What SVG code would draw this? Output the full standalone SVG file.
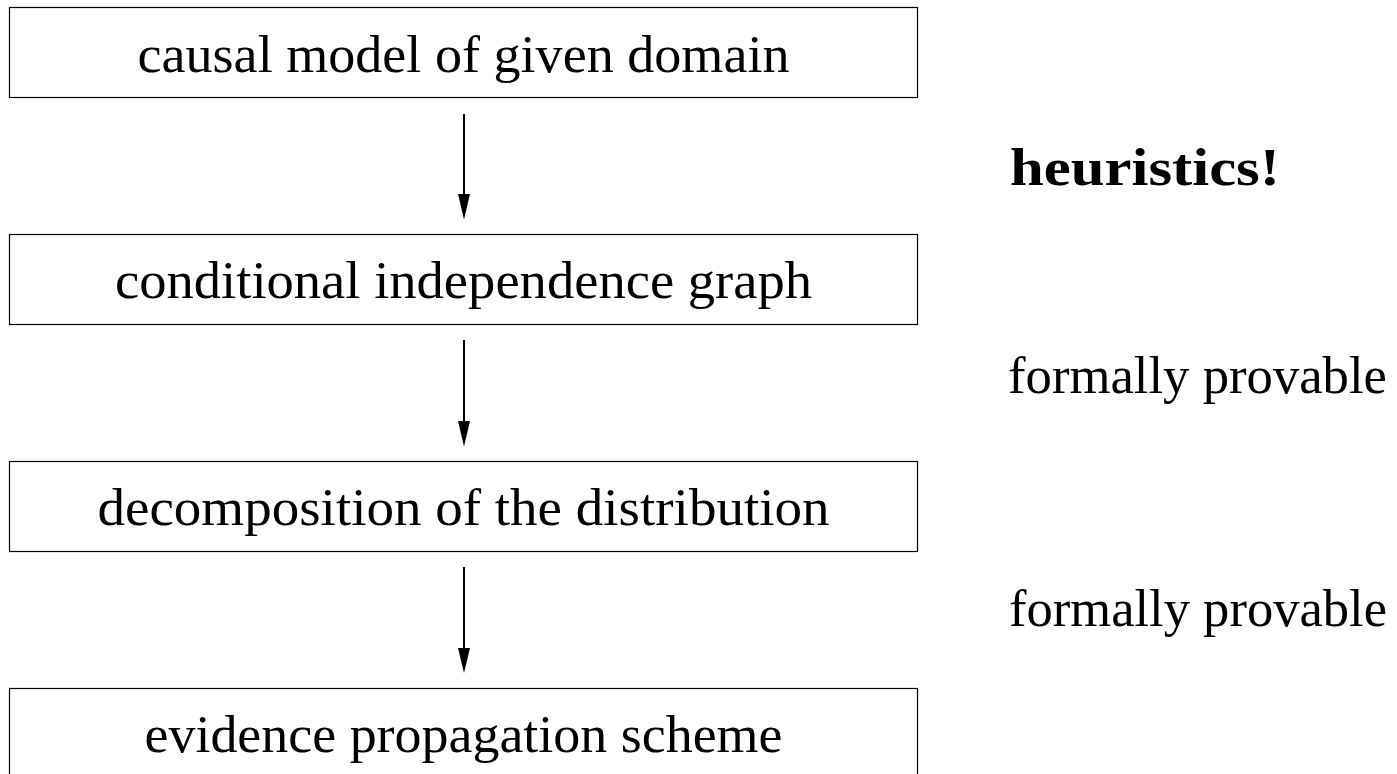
<svg xmlns="http://www.w3.org/2000/svg" width="1397" height="774" viewBox="0 0 1397 774">
<style>
.box{fill:#fff;stroke:#000;stroke-width:1.2}
.t{font-family:"Liberation Serif","DejaVu Serif",serif;font-size:53px;fill:#000;text-anchor:middle}
.s{font-family:"Liberation Serif","DejaVu Serif",serif;font-size:53px;fill:#000}
.b{font-weight:bold}
.arr{stroke:#000;stroke-width:2;fill:none}
.head{fill:#000}
</style>
<rect width="1397" height="774" fill="#fff"/>
<g id="n1"><rect class="box" x="9.5" y="7.5" width="908" height="90"/><text class="t" x="463.5" y="71.5" textLength="652" lengthAdjust="spacingAndGlyphs">causal model of given domain</text></g>
<g id="n2"><rect class="box" x="9.5" y="234.5" width="908" height="90"/><text class="t" x="463.5" y="298" textLength="697" lengthAdjust="spacingAndGlyphs">conditional independence graph</text></g>
<g id="n3"><rect class="box" x="9.5" y="461.5" width="908" height="90"/><text class="t" x="463.5" y="525" textLength="732" lengthAdjust="spacingAndGlyphs">decomposition of the distribution</text></g>
<g id="n4"><rect class="box" x="9.5" y="688.5" width="908" height="90"/><text class="t" x="463.5" y="752" textLength="638" lengthAdjust="spacingAndGlyphs">evidence propagation scheme</text></g>
<g id="connectors">
<line class="arr" x1="464" y1="114" x2="464" y2="196"/><polygon class="head" points="458,194 470,194 464,219.5"/>
<line class="arr" x1="464" y1="340" x2="464" y2="423"/><polygon class="head" points="458,421 470,421 464,446.5"/>
<line class="arr" x1="464" y1="567" x2="464" y2="650"/><polygon class="head" points="458,648 470,648 464,673"/>
</g>
<g id="labels">
<text class="s b" x="1010" y="185" textLength="270" lengthAdjust="spacingAndGlyphs">heuristics!</text>
<text class="s" x="1008" y="393" textLength="379" lengthAdjust="spacingAndGlyphs">formally provable</text>
<text class="s" x="1009" y="626" textLength="378" lengthAdjust="spacingAndGlyphs">formally provable</text>
</g>
</svg>
